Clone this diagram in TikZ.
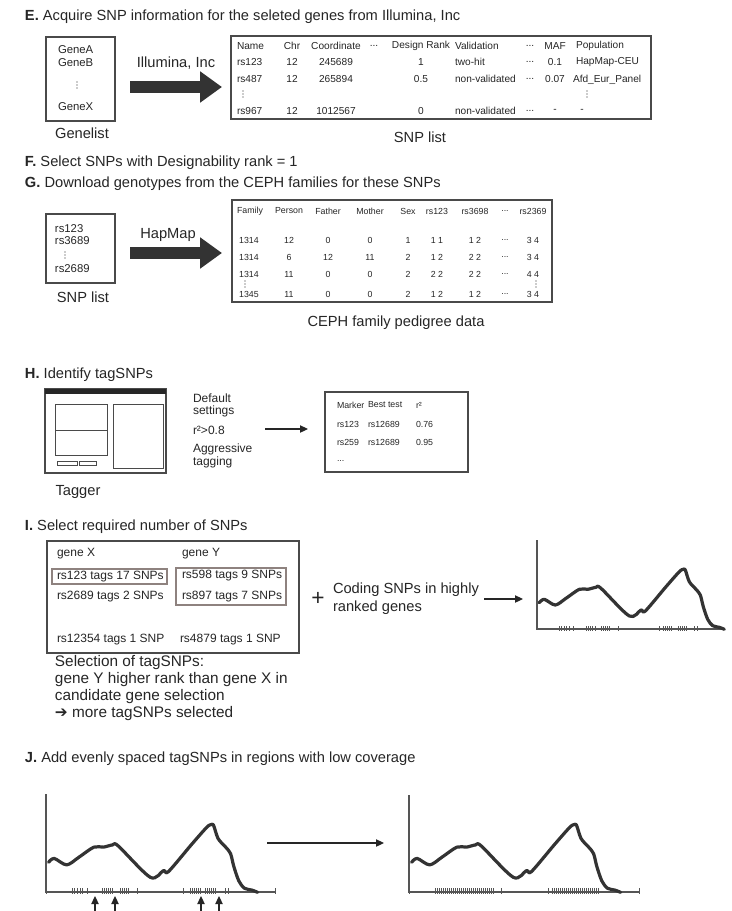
\documentclass[tikz,border=0pt]{standalone}
\usepackage{fontspec}
\setmainfont{Liberation Sans}
\newfontfamily\symfont{DejaVu Sans}
\usetikzlibrary{arrows.meta,fit}
\definecolor{ink}{HTML}{262626}
\definecolor{frame}{HTML}{4A4A4A}
\definecolor{hl}{HTML}{8E827F}
\definecolor{arrowc}{HTML}{333333}
\definecolor{markc}{HTML}{555555}
\newcommand\ddd{...}
\begin{document}
\begin{tikzpicture}[x=0.75pt,y=-0.75pt,
  every node/.style={text=ink, inner sep=0pt, outer sep=0pt},
  ttl/.style={anchor=west, font=\fontsize{11}{13}\selectfont},
  lbl/.style={font=\fontsize{11}{13}\selectfont},
  tab/.style={font=\fontsize{7.6}{9}\selectfont},
  ceph/.style={font=\fontsize{6.6}{8}\selectfont},
  res/.style={font=\fontsize{6.6}{8}\selectfont, anchor=west},
  med/.style={font=\fontsize{9}{11}\selectfont, anchor=west},
  lst/.style={font=\fontsize{8.5}{10}\selectfont, anchor=west},
  big/.style={font=\fontsize{11.5}{14}\selectfont, anchor=west},
  thinbox/.style={draw=frame, line width=0.8pt, inner sep=0pt},
  thickbox/.style={draw=frame, line width=1.4pt, inner sep=0pt},
  hlbox/.style={draw=hl, line width=1.6pt, inner sep=0pt},
  bigarrow/.style={draw=arrowc, line width=9pt, -{Triangle[length=16.5pt,width=22.5pt]}},
  thinarrow/.style={draw=ink, line width=0.8pt, -{Triangle[length=6pt,width=5.5pt]}},
  axis/.style={draw=markc, line width=0.8pt},
  snpmark/.style={draw=markc, line width=0.5pt},
  dotc/.style={fill=ink},
  curve/.style={draw=arrowc, line width=2.4pt, line join=round, line cap=round},
  vdotpic/.pic={\foreach \q in {-3,0,3} \fill[dotc] (0,\q) circle[radius=0.42pt];},
  covcurve/.pic={
    \draw[curve] plot[smooth, tension=0.5] coordinates {(2.3,-26.3) (7.3,-29.7) (18.3,-24) (29,-30.7) (42.3,-39.7) (50.7,-39.7) (59,-41.7) (64,-40.7) (92.3,-13) (104,-19) (108.3,-18) (129,-42.3) (142.3,-57.3) (146.3,-59.7) (148.3,-59) (152.3,-47.3) (159,-39.7) (163.3,-34) (166.3,-22.3) (170.7,-9.7) (175.7,-3.3) (182.3,-1.7) (187.3,0.3)};
  }
]
\useasboundingbox (0,0) rectangle (732,911);
\fill[white] (0,0) rectangle (732,911);

% ---------------- E ----------------
\node[ttl] (tE) at (25,17) {\textbf{E.} Acquire SNP information for the seleted genes from Illumina, Inc};
\node[thinbox, fit={(46,37) (115,121)}] (genelist) {};
\node[lst] (gA) at (58,50) {GeneA};
\node[lst] (gB) at (58,63) {GeneB};
\pic at (77,85) {vdotpic};
\node[lst] (gX) at (58,107) {GeneX};
\node[lbl] (glabel) at (82,133) {Genelist};
\node[lbl] (illu) at (176,63) {Illumina, Inc};
\coordinate (eA) at (130,87);
\coordinate (eB) at (222,87);
\draw[bigarrow] (eA) -- (eB);
\node[thickbox, fit={(231,36) (651,119)}] (snptab) {};
\foreach \t/\x/\a [count=\i] in {Name/237/west, Chr/292/center, Coordinate/336/center, \ddd/374/center, Design Rank/421/center, Validation/455/west, \ddd/530/center, MAF/555/center, Population/576/west}
  \node[tab, anchor=\a] (eh\i) at (\x,46) {\t};
\foreach \t/\x/\a [count=\i] in {rs123/237/west, 12/292/center, 245689/336/center, 1/421/center, two-hit/455/west, \ddd/530/center, 0.1/555/center, HapMap-CEU/576/west}
  \node[tab, anchor=\a] (ea\i) at (\x,62) {\t};
\foreach \t/\x/\a [count=\i] in {rs487/237/west, 12/292/center, 265894/336/center, 0.5/421/center, non-validated/455/west, \ddd/530/center, 0.07/555/center}
  \node[tab, anchor=\a] (eb\i) at (\x,79) {\t};
\node[tab, anchor=west] (eb8) at (573,80) {Afd\_Eur\_Panel};
\pic at (243,94) {vdotpic};
\pic at (587,94) {vdotpic};
\foreach \t/\x/\a [count=\i] in {rs967/237/west, 12/292/center, 1012567/336/center, 0/421/center, non-validated/455/west, \ddd/530/center, -/555/center, -/582/center}
  \node[tab, anchor=\a] (ec\i) at (\x,111) {\t};
\node[lbl] (snplabel) at (420,137) {SNP list};

% ---------------- F, G ----------------
\node[ttl] (tF) at (25,163) {\textbf{F.} Select SNPs with Designability rank = 1};
\node[ttl] (tG) at (25,184) {\textbf{G.} Download genotypes from the CEPH families for these SNPs};
\node[thinbox, fit={(46,214) (115,283)}] (snpbox) {};
\node[lst] (s1) at (55,229) {rs123};
\node[lst] (s2) at (55,241) {rs3689};
\pic at (65,255) {vdotpic};
\node[lst] (s3) at (55,269) {rs2689};
\node[lbl] (slabel) at (83,297) {SNP list};
\node[lbl] (hapmap) at (168,235) {HapMap};
\coordinate (gA1) at (130,253);
\coordinate (gB1) at (222,253);
\draw[bigarrow] (gA1) -- (gB1);
\node[thickbox, fit={(232,200) (552,302)}] (cephtab) {};
\foreach \t/\x [count=\i] in {Family/250, Person/289, Father/328, Mother/370, Sex/408, rs123/437, rs3698/475, \ddd/505, rs2369/533}
  \node[ceph] (ch\i) at (\x,211) {\t};
\foreach \t/\x [count=\i] in {1314/249, 12/289, 0/328, 0/370, 1/408, 1 1/437, 1 2/475, \ddd/505, 3 4/533}
  \node[ceph] (ca\i) at (\x,240) {\t};
\foreach \t/\x [count=\i] in {1314/249, 6/289, 12/328, 11/370, 2/408, 1 2/437, 2 2/475, \ddd/505, 3 4/533}
  \node[ceph] (cb\i) at (\x,257) {\t};
\foreach \t/\x [count=\i] in {1314/249, 11/289, 0/328, 0/370, 2/408, 2 2/437, 2 2/475, \ddd/505, 4 4/533}
  \node[ceph] (cc\i) at (\x,274) {\t};
\pic at (245,284) {vdotpic};
\pic at (536,284) {vdotpic};
\foreach \t/\x [count=\i] in {1345/249, 11/289, 0/328, 0/370, 2/408, 1 2/437, 1 2/475, \ddd/505, 3 4/533}
  \node[ceph] (cd\i) at (\x,294) {\t};
\node[lbl] (cephlabel) at (396,323) {CEPH family pedigree data};

% ---------------- H ----------------
\node[ttl] (tH) at (25,375) {\textbf{H.} Identify tagSNPs};
\node[thinbox, fit={(45,389) (166,473)}] (tagwin) {};
\fill[ink] (45,389) rectangle (166,393.5);
\draw[draw=frame, line width=0.7pt] (55,404) rectangle (107,430);
\draw[draw=frame, line width=0.7pt] (55,430) rectangle (107,455);
\draw[draw=frame, line width=0.7pt] (57,461) rectangle (77,465);
\draw[draw=frame, line width=0.7pt] (79,461) rectangle (96,465);
\draw[draw=frame, line width=0.7pt] (113,404) rectangle (163,468);
\node[lbl] (tagger) at (78,492) {Tagger};
\node[med] (o1) at (193,398) {Default};
\node[med] (o2) at (193,411) {settings};
\node[med] (o3) at (193,430) {r²>0.8};
\node[med] (o4) at (193,449) {Aggressive};
\node[med] (o5) at (193,462) {tagging};
\coordinate (hA) at (265,429);
\coordinate (hB) at (308,429);
\draw[thinarrow] (hA) -- (hB);
\node[thinbox, fit={(325,392) (468,472)}] (resbox) {};
\node[res] (r11) at (337,405) {Marker};
\node[res] (r12) at (368,405) {Best test};
\node[res] (r13) at (416,405) {r²};
\node[res] (r21) at (337,424) {rs123};
\node[res] (r22) at (368,424) {rs12689};
\node[res] (r23) at (416,424) {0.76};
\node[res] (r31) at (337,442) {rs259};
\node[res] (r32) at (368,442) {rs12689};
\node[res] (r33) at (416,442) {0.95};
\node[res] (r41) at (337,461) {\ddd};

% ---------------- I ----------------
\node[ttl] (tI) at (25,527) {\textbf{I.} Select required number of SNPs};
\node[thinbox, fit={(47,541) (299,653)}] (ibox) {};
\node[hlbox, fit={(52,569) (167,584)}] (hl1) {};
\node[hlbox, fit={(176,568) (286,605)}] (hl2) {};
\node[med] (gx) at (57,554) {gene X};
\node[med] (gy) at (182,554) {gene Y};
\node[med] (i1) at (57,577) {rs123 tags 17 SNPs};
\node[med] (i2) at (182,576) {rs598 tags 9 SNPs};
\node[med] (i3) at (57,597) {rs2689 tags 2 SNPs};
\node[med] (i4) at (182,597) {rs897 tags 7 SNPs};
\node[med] (i5) at (57,640) {rs12354 tags 1 SNP};
\node[med] (i6) at (180,640) {rs4879 tags 1 SNP};
\node[big] (c1) at (55,663) {Selection of tagSNPs:};
\node[big] (c2) at (55,680) {gene Y higher rank than gene X in};
\node[big] (c3) at (55,697) {candidate gene selection};
\node[big] (c4) at (55,714) {{\symfont ➔} more tagSNPs selected};
\node[font=\fontsize{17}{20}\selectfont] (plus) at (318,599) {+};
\node[lbl, anchor=west] (cod1) at (333,590) {Coding SNPs in highly};
\node[lbl, anchor=west] (cod2) at (333,608) {ranked genes};
\coordinate (iA) at (484,599);
\coordinate (iB) at (523,599);
\draw[thinarrow] (iA) -- (iB);
\coordinate (gI0) at (537,629);
\draw[axis] (537,540) -- (gI0) -- (724,629);
\foreach \m in {559,561,564,566,569,573,586,588,590,592,595,601,603,605,607,609,618,659,663,665,667,669,671,678,680,682,684,686,694,697}
  \draw[snpmark] (\m,626) -- (\m,631);
\pic at (gI0) {covcurve};

% ---------------- J ----------------
\node[ttl] (tJ) at (25,759) {\textbf{J.} Add evenly spaced tagSNPs in regions with low coverage};
\coordinate (gJ0) at (46,892);
\draw[axis] (46,794) -- (gJ0) -- (275,892);
\foreach \m in {46,72,74,77,80,82,87,102,104,106,108,110,112,120,122,124,126,128,137,183,190,192,194,196,198,200,205,207,209,211,213,215,225,228,275}
  \draw[snpmark] (\m,888) -- (\m,894);
\pic[scale=1.13] at (gJ0) {covcurve};
\foreach \a [count=\k] in {95,115,201,219} {
  \coordinate (ja\k) at (\a,911);
  \coordinate (jb\k) at (\a,896);
  \draw[thinarrow] (ja\k) -- (jb\k);
}
\coordinate (jA) at (267,843);
\coordinate (jB) at (384,843);
\draw[thinarrow] (jA) -- (jB);
\coordinate (gK0) at (409,892);
\draw[axis] (409,795) -- (gK0) -- (639,892);
\foreach \m in {409,435,437,...,493}
  \draw[snpmark] (\m,888) -- (\m,894);
\foreach \m in {501,548,552,554,...,598}
  \draw[snpmark] (\m,888) -- (\m,894);
\draw[snpmark] (639,888) -- (639,894);
\pic[scale=1.13] at (gK0) {covcurve};
\end{tikzpicture}
\end{document}
